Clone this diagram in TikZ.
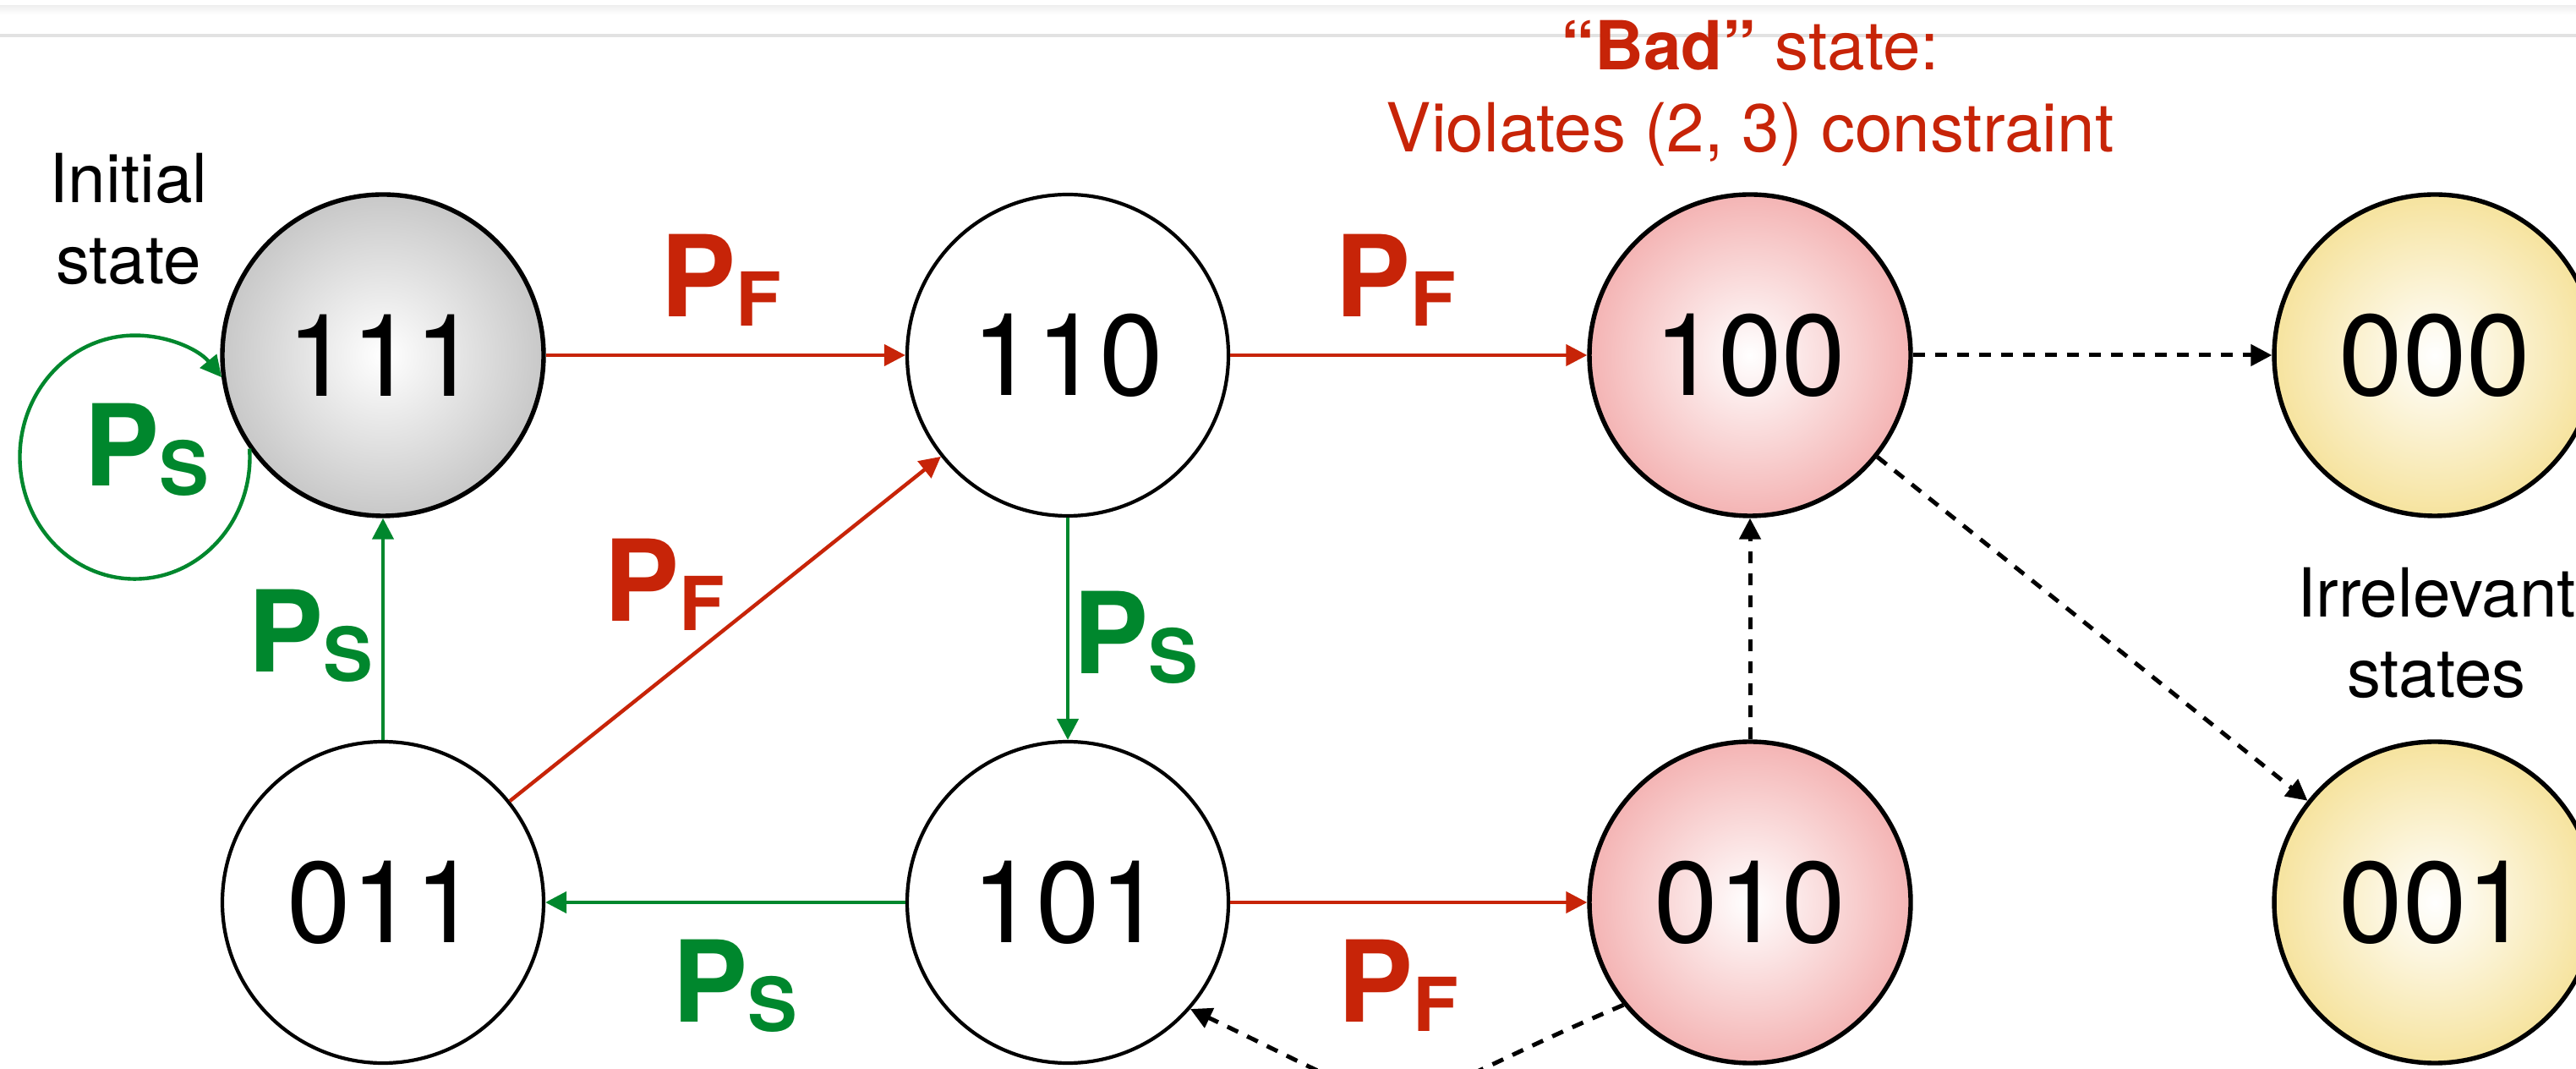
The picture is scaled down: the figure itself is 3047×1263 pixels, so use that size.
\documentclass[tikz,border=0pt]{standalone}
\usepackage{fontspec}
\setmainfont{TeX Gyre Heros}
\usetikzlibrary{arrows.meta}

\definecolor{pfred}{RGB}{199,36,8}
\definecolor{psgreen}{RGB}{0,135,45}
\definecolor{grayedge}{RGB}{200,200,200}
\definecolor{pinkedge}{RGB}{244,180,180}
\definecolor{yellowedge}{RGB}{246,227,158}
\definecolor{ruleline}{RGB}{226,226,226}

% transition probability: bold P with a lowered subscript letter
\newcommand\prob[1]{\textbf{P}\raisebox{-2.75pt}{\fontsize{22}{22}\selectfont\textbf{#1}}}

\begin{document}
\begin{tikzpicture}[x=0.25pt,y=0.25pt,
  state/.style={circle, draw=black, line width=1.05pt, minimum size=95pt,
    inner sep=0pt, fill=white, font=\fontsize{34}{34}\selectfont},
  startstate/.style={state, line width=1.35pt, inner color=white, outer color=grayedge},
  badstate/.style={state, line width=1.35pt, inner color=white, outer color=pinkedge},
  idlestate/.style={state, line width=1.35pt, inner color=white, outer color=yellowedge},
  tip/.style={-{Triangle[length=6.25pt,width=6.25pt]}},
  fail/.style={draw=pfred, line width=1.1pt, tip},
  succ/.style={draw=psgreen, line width=1.1pt, tip},
  other/.style={draw=black, line width=1.25pt, dash pattern=on 3.5pt off 3pt, tip},
  problabel/.style={anchor=base west, inner sep=0pt, font=\fontsize{33.4}{33.4}\selectfont},
  note/.style={anchor=base, inner sep=0pt, font=\fontsize{20}{20}\selectfont}
]
\useasboundingbox (0,0) rectangle (3047,1263);
\clip (0,0) rectangle (3047,1263);

% header strip
\shade[top color=black!6, bottom color=white] (0,1256) rectangle (3047,1246);
\fill[ruleline] (0,1219) rectangle (3047,1223);

% states
\node[startstate] (n111) at (453,843) {111};
\node[state]      (n110) at (1263,843) {110};
\node[badstate]   (n100) at (2070,843) {100};
\node[idlestate]  (n000) at (2880,843) {000};
\node[state]      (n011) at (453,196) {011};
\node[state]      (n101) at (1263,196) {101};
\node[badstate]   (n010) at (2070,196) {010};
\node[idlestate]  (n001) at (2880,196) {001};

% failure transitions
\draw[fail] (n111) -- (n110);
\draw[fail] (n110) -- (n100);
\draw[fail] (n011) -- (n110);
\draw[fail] (n101) -- (n010);

% success transitions
\draw[succ] (n111.215) arc[start angle=4, end angle=-319, x radius=34pt, y radius=36pt];
\draw[succ] (n011) -- (n111);
\draw[succ] (n110) -- (n101);
\draw[succ] (n101) -- (n011);

% transitions out of the bad states
\draw[other] (n100) -- (n000);
\draw[other] (n100) -- (n001);
\draw[other] (n010) -- (n100);
\draw[other] (n010.219) .. controls +(-313,-133) and +(300,-143) .. (n101.-41);

% probability labels
\node[problabel, text=pfred] (lf1) at (781,888) {\prob{F}};
\node[problabel, text=pfred] (lf2) at (1579,888) {\prob{F}};
\node[problabel, text=pfred] (lf3) at (714,528) {\prob{F}};
\node[problabel, text=pfred] (lf4) at (1582,55) {\prob{F}};
\node[problabel, text=psgreen] (ls1) at (99,688) {\prob{S}};
\node[problabel, text=psgreen] (ls2) at (293,468) {\prob{S}};
\node[problabel, text=psgreen] (ls3) at (1269,466) {\prob{S}};
\node[problabel, text=psgreen] (ls4) at (795,55) {\prob{S}};

% annotations
\node[note] (init1) at (152,1023) {Initial};
\node[note] (init2) at (152,927) {state};
\node[note, text=pfred] (bad1) at (2070,1180) {\textbf{“Bad”} state:};
\node[note, text=pfred] (bad2) at (2070,1083) {Violates (2, 3) constraint};
\node[note] (irr1) at (2882,533) {Irrelevant};
\node[note] (irr2) at (2882,438) {states};
\end{tikzpicture}
\end{document}
